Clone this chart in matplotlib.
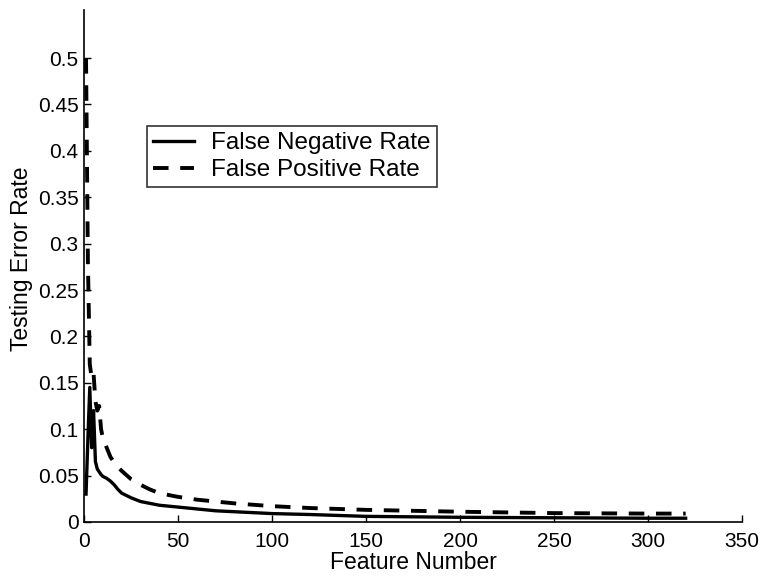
import matplotlib
matplotlib.use('Agg')
import matplotlib.pyplot as plt

plt.rcParams['font.family'] = ['Liberation Sans', 'DejaVu Sans']

# False negative rate vs number of features
fn_x = [1, 2, 3, 4, 5, 6, 7, 8, 9, 10, 12, 14, 16, 18, 20, 22, 25, 30, 35, 40,
        50, 60, 70, 80, 100, 120, 150, 200, 250, 300, 320]
fn_y = [0.03, 0.09, 0.145, 0.08, 0.12, 0.065, 0.057, 0.054, 0.051, 0.049, 0.047,
        0.044, 0.04, 0.035, 0.031, 0.029, 0.026, 0.022, 0.02, 0.018, 0.016, 0.014,
        0.012, 0.011, 0.009, 0.008, 0.006, 0.005, 0.0045, 0.004, 0.004]

# False positive rate vs number of features
fp_x = [1, 2, 3, 4, 5, 6, 7, 8, 9, 10, 12, 14, 16, 18, 20, 25, 30, 35, 40,
        50, 60, 70, 80, 100, 120, 150, 200, 250, 300, 320]
fp_y = [0.5, 0.28, 0.17, 0.155, 0.16, 0.13, 0.12, 0.125, 0.1, 0.09, 0.08, 0.07,
        0.064, 0.059, 0.055, 0.046, 0.04, 0.035, 0.031, 0.027, 0.024, 0.022, 0.02,
        0.017, 0.015, 0.013, 0.011, 0.0095, 0.009, 0.009]

xticks = [0, 50, 100, 150, 200, 250, 300, 350]
yticks = [0, 0.05, 0.1, 0.15, 0.2, 0.25, 0.3, 0.35, 0.4, 0.45, 0.5]
ytick_labels = ['0', '0.05', '0.1', '0.15', '0.2', '0.25', '0.3', '0.35', '0.4', '0.45', '0.5']

fig = plt.figure(figsize=(7.65, 5.78), dpi=100)
ax = fig.add_axes([0.110, 0.097, 0.860, 0.886])

ax.plot(fn_x, fn_y, color='black', lw=2.4, label='False Negative Rate')
ax.plot(fp_x, fp_y, color='black', lw=2.8, linestyle=(0, (4, 3)), label='False Positive Rate')

ax.set_xlim(0, 350)
ax.set_ylim(0, 0.552)
ax.set_xticks(xticks)
ax.set_yticks(yticks)
ax.set_yticklabels(ytick_labels)
ax.tick_params(direction='in', labelsize=15, length=5, width=1)
ax.tick_params(axis='x', pad=7)
ax.tick_params(axis='y', pad=4)

for s in ['top', 'right']:
    ax.spines[s].set_visible(False)
for s in ['left', 'bottom']:
    ax.spines[s].set_linewidth(1.2)

ax.set_xlabel('Feature Number', fontsize=16.5)
ax.set_ylabel('Testing Error Rate', fontsize=16.5)
ax.xaxis.set_label_coords(0.5, -0.056)
ax.yaxis.set_label_coords(-0.077, 0.514)

leg = ax.legend(loc='upper left', bbox_to_anchor=(0.095, 0.773), fontsize=17.5,
                frameon=True, fancybox=False, edgecolor='black',
                handlelength=1.7, handletextpad=0.7, borderpad=0.25,
                labelspacing=0.2, borderaxespad=0)
leg.get_frame().set_linewidth(1.2)

fig.savefig('out.png', dpi=100)
